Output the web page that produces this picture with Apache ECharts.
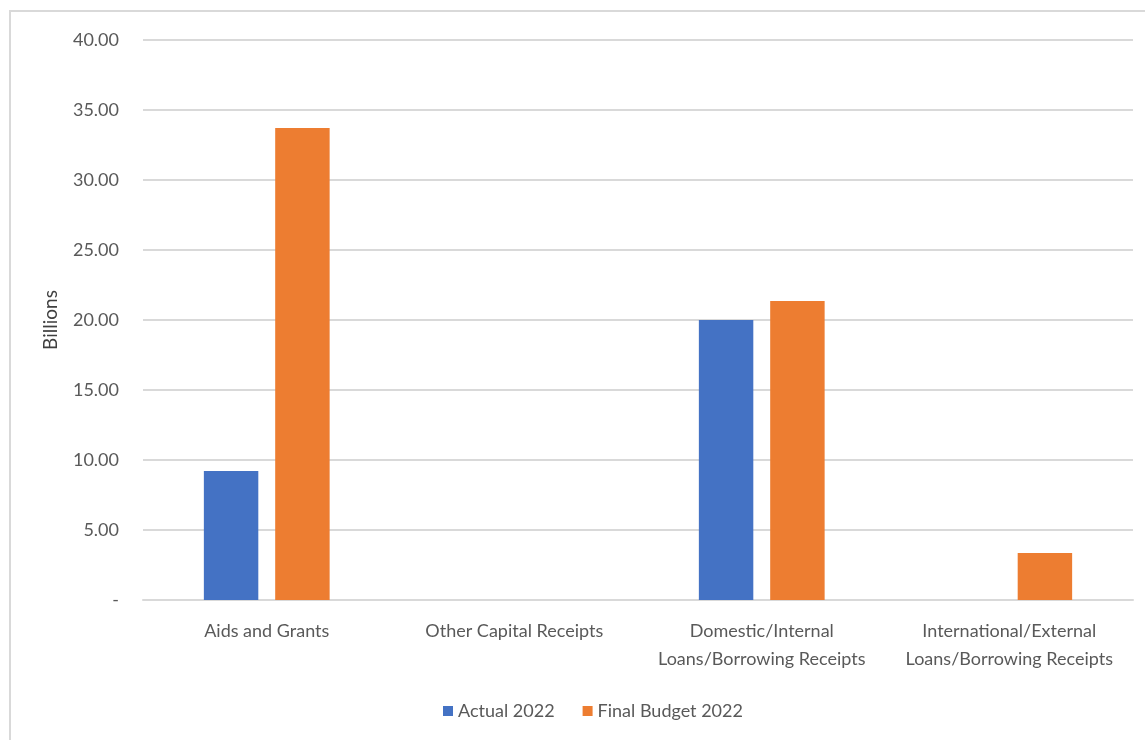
<!DOCTYPE html>
<html><head><meta charset="utf-8">
<script src="https://cdn.jsdelivr.net/npm/echarts@6/dist/echarts.min.js"></script>
<style>
html,body{margin:0;padding:0;background:#fff;}
#frame{position:absolute;left:9px;top:10px;width:1145px;height:740px;border:2px solid #d9d9d9;box-sizing:border-box;}
#c{position:absolute;left:0;top:0;width:1145px;height:740px;}
</style></head><body>
<div id="frame"></div>
<div id="c"></div>
<script>
const categories = ["Aids and Grants", "Other Capital Receipts", "Domestic/Internal\nLoans/Borrowing Receipts", "International/External\nLoans/Borrowing Receipts"];
const actual2022 = [9.21, 0, 20.0, 0];
const finalBudget2022 = [33.71, 0, 21.36, 3.36];
const seriesNames = ["Actual 2022", "Final Budget 2022"];
const FONT = "Lato";
const chart = echarts.init(document.getElementById('c'));
chart.setOption({
  animation:false,
  textStyle:{fontFamily:FONT},
  grid:{left:143,right:12,top:40,bottom:140},
  legend:{bottom:15,left:438,itemWidth:10,itemHeight:10,itemGap:28,icon:'rect',
    textStyle:{fontFamily:FONT,fontSize:18,color:'#595959'},data:seriesNames},
  xAxis:{type:'category',data:categories,
    axisLine:{lineStyle:{color:'#d9d9d9',width:2}},axisTick:{show:false},
    axisLabel:{fontFamily:FONT,fontSize:18,color:'#595959',margin:17,lineHeight:28,interval:0}},
  yAxis:{type:'value',min:0,max:40,interval:5,name:'Billions',nameLocation:'middle',nameGap:83,nameRotate:90,
    nameTextStyle:{fontFamily:FONT,fontSize:19,color:'#404040'},
    axisLine:{show:false},axisTick:{show:false},
    splitLine:{lineStyle:{color:'#d9d9d9',width:2}},
    axisLabel:{fontFamily:FONT,fontSize:18,color:'#595959',margin:24,
      formatter:v=>v===0?'-':v.toFixed(2)}},
  series:[
    {name:seriesNames[0],type:'bar',data:actual2022,barWidth:'22%',barGap:'31%',itemStyle:{color:'#4472c4'}},
    {name:seriesNames[1],type:'bar',data:finalBudget2022,barWidth:'22%',itemStyle:{color:'#ed7d31'}}
  ]
});
</script></body></html>
